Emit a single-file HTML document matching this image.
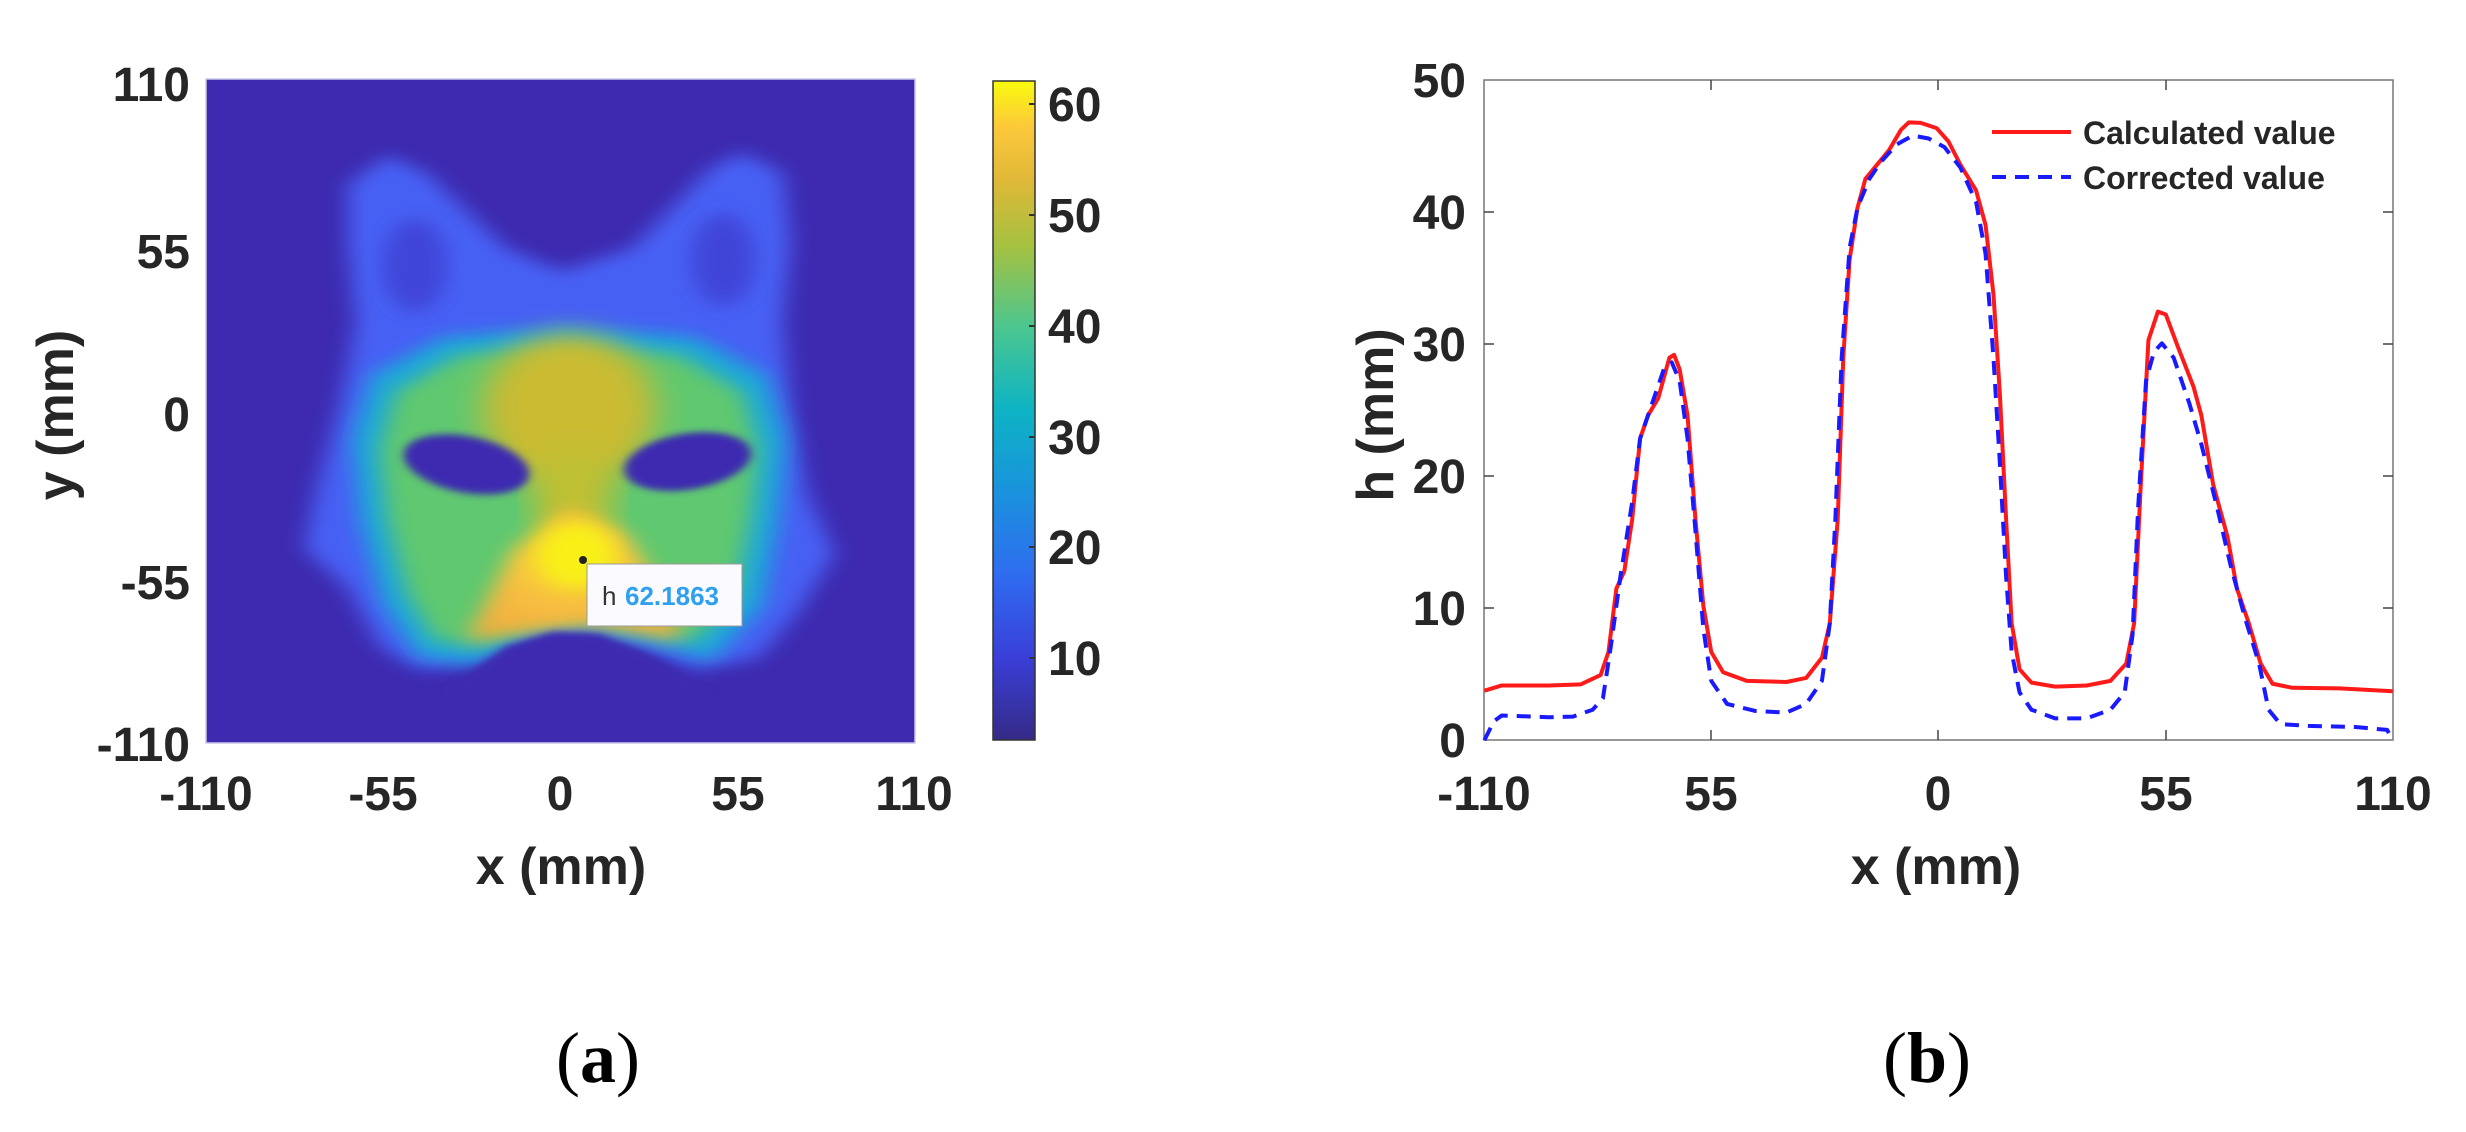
<!DOCTYPE html>
<html><head><meta charset="utf-8"><style>
html,body{margin:0;padding:0;background:#fff;width:2466px;height:1132px;overflow:hidden}
svg{display:block}
text{font-family:"Liberation Sans",Arial,sans-serif;font-weight:bold;fill:#262626}
</style></head><body>
<svg width="2466" height="1132" viewBox="0 0 2466 1132" xmlns="http://www.w3.org/2000/svg">
<defs>
<filter id="b1" x="-20%" y="-20%" width="140%" height="140%"><feGaussianBlur stdDeviation="14"/></filter>
<filter id="b2" x="-20%" y="-20%" width="140%" height="140%"><feGaussianBlur stdDeviation="22"/></filter>
<filter id="b3" x="-20%" y="-20%" width="140%" height="140%"><feGaussianBlur stdDeviation="6"/></filter>
<clipPath id="hc"><rect x="206" y="79" width="709" height="664"/></clipPath>
<linearGradient id="par" x1="0" y1="1" x2="0" y2="0">
<stop offset="0" stop-color="#352a87"/><stop offset="0.125" stop-color="#3a3fd8"/>
<stop offset="0.25" stop-color="#2f6cf0"/><stop offset="0.375" stop-color="#1a92dd"/>
<stop offset="0.5" stop-color="#0db3c4"/><stop offset="0.625" stop-color="#4ac690"/>
<stop offset="0.75" stop-color="#a6c140"/><stop offset="0.85" stop-color="#e0b838"/>
<stop offset="0.93" stop-color="#fcc83a"/><stop offset="1" stop-color="#f9fb0e"/>
</linearGradient>
<radialGradient id="nose" cx="0.5" cy="0.4" r="0.6"><stop offset="0" stop-color="#f8f020"/><stop offset="0.5" stop-color="#f8c040"/><stop offset="1" stop-color="#f0b040"/></radialGradient>
</defs>

<!-- heatmap -->
<g clip-path="url(#hc)">
<rect x="206" y="79" width="709" height="664" fill="#3d2ab0"/>
<g transform="scale(0.7905,0.577)">
<path filter="url(#b1)" fill="#4660f4" d="M440,320 L490,270 L540,300 L640,430 L710,470 L800,430 L900,290 L940,265 L990,300 L1000,420 L990,560 L1000,700 L1020,850 L1055,960 L1010,1060 L960,1140 L880,1160 L820,1130 L740,1095 L680,1105 L620,1150 L530,1160 L480,1120 L440,1020 L385,950 L400,850 L430,700 L450,560 L440,420 Z"/>
<ellipse filter="url(#b1)" cx="525" cy="460" rx="40" ry="80" fill="#3f44d8"/>
<ellipse filter="url(#b1)" cx="915" cy="450" rx="40" ry="80" fill="#3f44d8"/>
<path filter="url(#b1)" fill="#1aa8d8" d="M470,650 L560,585 L720,565 L880,585 L970,650 L995,760 L985,900 L965,1050 L900,1145 L820,1115 L740,1090 L680,1100 L600,1150 L530,1140 L485,1050 L455,900 L445,760 Z"/>
<path filter="url(#b1)" fill="#5ec870" d="M500,680 L580,615 L720,600 L860,615 L940,680 L960,780 L950,900 L930,1030 L880,1110 L820,1095 L740,1075 L680,1085 L610,1120 L550,1110 L515,1030 L490,900 L480,780 Z"/>
<ellipse filter="url(#b2)" cx="720" cy="710" rx="110" ry="130" fill="#cabb30"/>
<ellipse filter="url(#b2)" cx="725" cy="860" rx="50" ry="90" fill="#c0c030"/>
<path filter="url(#b1)" fill="url(#nose)" d="M590,1110 L650,950 L720,880 L790,920 L850,1050 L860,1110 L800,1095 L740,1085 L680,1095 Z"/>
<ellipse filter="url(#b1)" cx="730" cy="960" rx="45" ry="55" fill="#f8f018"/>
<ellipse filter="url(#b3)" cx="590" cy="805" rx="82" ry="48" fill="#3d2ab0" transform="rotate(18 590 805)"/>
<ellipse filter="url(#b3)" cx="870" cy="800" rx="82" ry="48" fill="#3d2ab0" transform="rotate(-15 870 800)"/>
<path filter="url(#b3)" fill="#3d2ab0" d="M560,1200 L640,1120 L700,1095 L760,1100 L830,1140 L900,1200 Z"/>
</g>
</g>
<rect x="206" y="79" width="709" height="664" fill="none" stroke="#c8c8e8" stroke-width="1.5"/>
<!-- tooltip -->
<circle cx="583" cy="560" r="4" fill="#222"/>
<rect x="587" y="564" width="155" height="62" fill="#fbfbff" stroke="#999" stroke-width="1"/>
<text x="602" y="605" font-size="26" style="font-weight:normal;fill:#333">h</text>
<text x="625" y="605" font-size="26" style="fill:#2fa0f0">62.1863</text>

<!-- left axes labels -->
<g font-size="48" text-anchor="end">
<text x="190" y="101">110</text><text x="190" y="268">55</text><text x="190" y="431">0</text><text x="190" y="599">-55</text><text x="190" y="761">-110</text>
</g>
<g font-size="48" text-anchor="middle">
<text x="206" y="810">-110</text><text x="383" y="810">-55</text><text x="560" y="810">0</text><text x="738" y="810">55</text><text x="914" y="810">110</text>
</g>
<text x="561" y="884" font-size="52" text-anchor="middle">x (mm)</text>
<text transform="translate(73,415) rotate(-90)" font-size="52" text-anchor="middle">y (mm)</text>

<!-- colorbar -->
<rect x="993" y="81" width="42" height="659" fill="url(#par)" stroke="#333" stroke-width="1.5"/>
<g stroke="#333" stroke-width="2">
<line x1="1029" y1="658" x2="1035" y2="658"/><line x1="1029" y1="547" x2="1035" y2="547"/><line x1="1029" y1="437" x2="1035" y2="437"/><line x1="1029" y1="326" x2="1035" y2="326"/><line x1="1029" y1="215" x2="1035" y2="215"/><line x1="1029" y1="104" x2="1035" y2="104"/>
</g>
<g font-size="48">
<text x="1048" y="675">10</text><text x="1048" y="564">20</text><text x="1048" y="454">30</text><text x="1048" y="343">40</text><text x="1048" y="232">50</text><text x="1048" y="121">60</text>
</g>

<!-- right plot -->
<rect x="1484" y="80" width="909" height="660" fill="#fff" stroke="#777" stroke-width="1.5"/>
<g stroke="#444" stroke-width="1.5">
<line x1="1711" y1="740" x2="1711" y2="730"/><line x1="1938" y1="740" x2="1938" y2="730"/><line x1="2166" y1="740" x2="2166" y2="730"/>
<line x1="1711" y1="80" x2="1711" y2="90"/><line x1="1938" y1="80" x2="1938" y2="90"/><line x1="2166" y1="80" x2="2166" y2="90"/>
<line x1="1484" y1="608" x2="1494" y2="608"/><line x1="1484" y1="476" x2="1494" y2="476"/><line x1="1484" y1="344" x2="1494" y2="344"/><line x1="1484" y1="212" x2="1494" y2="212"/>
<line x1="2393" y1="608" x2="2383" y2="608"/><line x1="2393" y1="476" x2="2383" y2="476"/><line x1="2393" y1="344" x2="2383" y2="344"/><line x1="2393" y1="212" x2="2383" y2="212"/>
</g>
<g transform="translate(1233,0) scale(0.7905,0.577)" fill="none" stroke-linejoin="round">
<polyline vector-effect="non-scaling-stroke" stroke="#ff1a1a" stroke-width="4" points="318,1197 340,1188 400,1188 440,1186 465,1170 475,1130 485,1020 495,990 505,900 515,760 525,720 538,690 552,620 558,615 565,640 575,720 585,900 595,1050 605,1130 620,1165 650,1180 700,1182 725,1175 745,1140 755,1080 765,900 772,620 780,450 790,360 800,310 815,285 830,260 845,225 855,212 870,213 890,222 905,245 920,285 940,330 952,390 962,510 970,680 978,900 985,1080 995,1160 1010,1183 1040,1190 1080,1188 1110,1180 1130,1150 1140,1080 1148,850 1158,590 1170,540 1180,545 1195,600 1215,670 1225,720 1240,840 1258,930 1270,1020 1285,1080 1300,1150 1315,1185 1340,1192 1400,1193 1467,1198"/>
<polyline vector-effect="non-scaling-stroke" stroke="#1a1aff" stroke-width="4" stroke-dasharray="14,9" points="318,1283 330,1250 340,1240 400,1243 430,1242 455,1230 468,1210 478,1120 490,1000 505,870 515,760 530,700 545,640 555,628 565,660 575,760 585,920 595,1090 605,1180 625,1220 660,1232 700,1235 725,1220 745,1180 755,1080 762,900 770,620 780,430 790,360 805,310 820,280 840,250 860,235 880,240 900,255 920,290 940,350 952,440 962,620 970,800 978,1000 985,1130 995,1200 1010,1230 1040,1245 1080,1245 1110,1230 1128,1200 1138,1100 1145,880 1155,660 1165,610 1175,595 1190,620 1210,700 1225,770 1245,880 1262,980 1280,1070 1298,1150 1310,1230 1325,1255 1360,1258 1420,1260 1460,1265 1467,1283"/>
</g>
<!-- legend -->
<line x1="1992" y1="132" x2="2071" y2="132" stroke="#ff1a1a" stroke-width="4"/>
<line x1="1992" y1="177" x2="2071" y2="177" stroke="#1a1aff" stroke-width="4" stroke-dasharray="14,9"/>
<text x="2083" y="144" font-size="32">Calculated value</text>
<text x="2083" y="189" font-size="32">Corrected value</text>

<g font-size="48" text-anchor="end">
<text x="1466" y="757">0</text><text x="1466" y="625">10</text><text x="1466" y="493">20</text><text x="1466" y="361">30</text><text x="1466" y="229">40</text><text x="1466" y="97">50</text>
</g>
<g font-size="48" text-anchor="middle">
<text x="1484" y="810">-110</text><text x="1711" y="810">55</text><text x="1938" y="810">0</text><text x="2166" y="810">55</text><text x="2393" y="810">110</text>
</g>
<text x="1936" y="884" font-size="52" text-anchor="middle">x (mm)</text>
<text transform="translate(1393,415) rotate(-90)" font-size="52" text-anchor="middle">h (mm)</text>

<!-- captions -->
<text x="598" y="1082" font-size="72" text-anchor="middle" style="font-family:'Liberation Serif',serif;font-weight:normal;fill:#000">(<tspan style="font-weight:bold">a</tspan>)</text>
<text x="1927" y="1082" font-size="72" text-anchor="middle" style="font-family:'Liberation Serif',serif;font-weight:normal;fill:#000">(<tspan style="font-weight:bold">b</tspan>)</text>
</svg>
</body></html>
